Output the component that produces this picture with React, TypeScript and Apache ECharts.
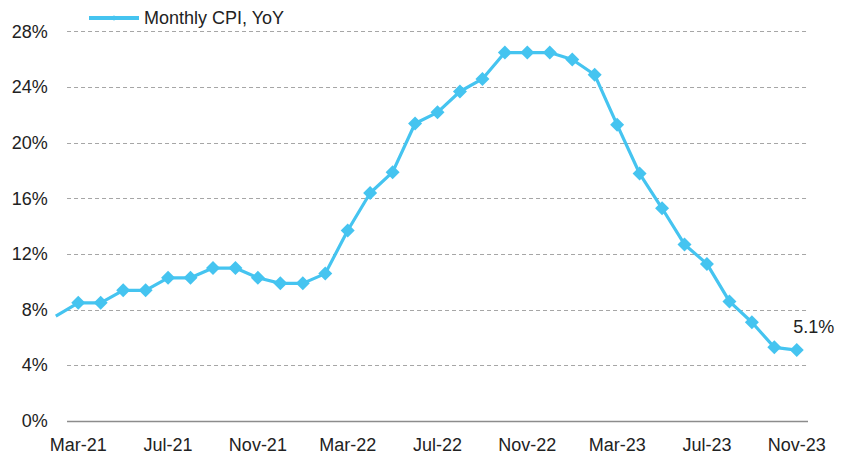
import React, { useEffect, useRef } from "react";
import * as echarts from "echarts";

const months: string[] = [
  "Mar-21", "Apr-21", "May-21", "Jun-21", "Jul-21", "Aug-21", "Sep-21", "Oct-21", "Nov-21", "Dec-21",
  "Jan-22", "Feb-22", "Mar-22", "Apr-22", "May-22", "Jun-22", "Jul-22", "Aug-22", "Sep-22", "Oct-22", "Nov-22", "Dec-22",
  "Jan-23", "Feb-23", "Mar-23", "Apr-23", "May-23", "Jun-23", "Jul-23", "Aug-23", "Sep-23", "Oct-23", "Nov-23",
];
const cpiYoY: number[] = [
  8.5, 8.5, 9.4, 9.4, 10.3, 10.3, 11.0, 11.0, 10.3, 9.9,
  9.9, 10.6, 13.7, 16.4, 17.9, 21.4, 22.2, 23.7, 24.6, 26.5, 26.5, 26.5,
  26.0, 24.9, 21.3, 17.8, 15.3, 12.7, 11.3, 8.6, 7.1, 5.3, 5.1,
];
// value of the month before the first category (Feb-21); the line enters from the left edge
const prevMonthValue = 7.55;
const labelStep = 4;
const yTicks = { min: 0, max: 28, interval: 4 };

const COLOR = "#45C4F0";
const FONT = "'Liberation Sans', Arial, sans-serif";

export default function App() {
  const ref = useRef<HTMLDivElement>(null);
  useEffect(() => {
    if (!ref.current) return;
    const chart = echarts.init(ref.current, undefined, { renderer: "svg" });
    const last = cpiYoY.length - 1;
    const data: any[] = [{ value: [-1, prevMonthValue], symbol: "none" }];
    cpiYoY.forEach((v, i) => {
      if (i === last) {
        data.push({
          value: [i, v],
          label: {
            show: true,
            position: "top",
            offset: [17, -2],
            formatter: () => v.toFixed(1) + "%",
            color: "#222",
            fontSize: 18,
            fontFamily: FONT,
          },
        });
      } else {
        data.push({ value: [i, v] });
      }
    });
    const labelValues: number[] = [];
    for (let i = 0; i < months.length; i += labelStep) labelValues.push(i);

    const xStart = -0.5;
    const xEnd = months.length - 0.5;
    const gridLines: any[] = [];
    for (let v = yTicks.min; v <= yTicks.max; v += yTicks.interval) {
      const style =
        v === 0
          ? { color: "#8c8c8c", type: "solid", width: 1.3 }
          : { color: "#a6a6a6", type: [4, 3], width: 1.2 };
      gridLines.push([
        { coord: [xStart, v], lineStyle: style },
        { coord: [xEnd, v] },
      ]);
    }

    chart.setOption({
      animation: false,
      backgroundColor: "#fff",
      textStyle: { fontFamily: FONT },
      legend: {
        show: true,
        left: 82,
        top: 4,
        itemWidth: 50,
        itemHeight: 7,
        itemGap: 10,
        lineStyle: { width: 4 },
        textStyle: { fontSize: 18, color: "#222", fontFamily: FONT },
        data: [{ name: "Monthly CPI, YoY" }],
      },
      grid: { left: 55.8, right: 42, top: 31.7, bottom: 36, containLabel: false },
      xAxis: {
        type: "value",
        min: -1,
        max: xEnd,
        splitLine: { show: false },
        axisTick: { show: false },
        axisLine: { show: false },
        axisLabel: {
          customValues: labelValues,
          formatter: (val: number) => months[Math.round(val)] ?? "",
          margin: 15,
          fontSize: 18,
          color: "#222",
          fontFamily: FONT,
        },
      },
      yAxis: {
        type: "value",
        min: yTicks.min,
        max: yTicks.max,
        interval: yTicks.interval,
        axisLine: { show: false },
        axisTick: { show: false },
        axisLabel: {
          formatter: (v: number) => v + "%",
          fontSize: 18,
          color: "#222",
          margin: 8,
          fontFamily: FONT,
        },
        splitLine: { show: false },
      },
      series: [
        {
          name: "Monthly CPI, YoY",
          type: "line",
          data,
          symbol: "diamond",
          symbolSize: 14,
          lineStyle: { color: COLOR, width: 3.2 },
          itemStyle: { color: COLOR },
          z: 5,
          markLine: {
            silent: true,
            symbol: "none",
            label: { show: false },
            emphasis: { disabled: true },
            z: 1,
            data: gridLines,
          },
        },
      ],
    });
    return () => chart.dispose();
  }, []);
  return <div ref={ref} style={{ width: 850, height: 457, position: "absolute", left: 0, top: 0 }} />;
}
